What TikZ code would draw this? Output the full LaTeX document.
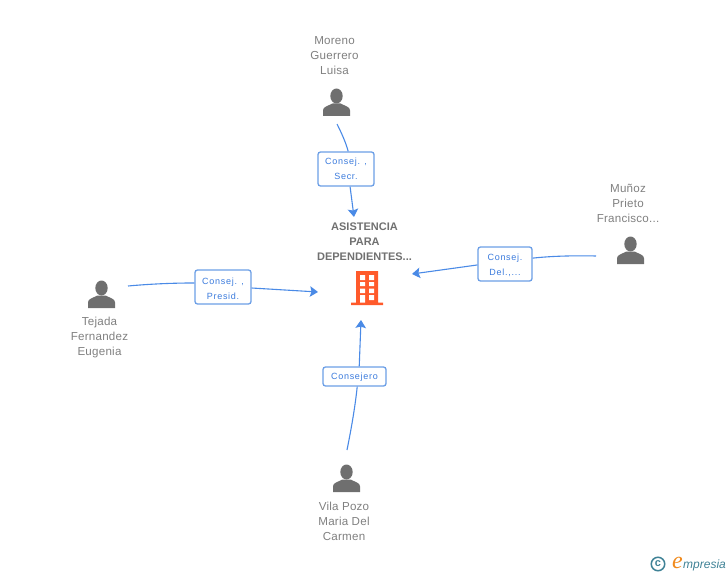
\documentclass[tikz,border=0pt]{standalone}
\usepackage{fontspec}
\setmainfont{Liberation Sans}
\newfontfamily\spacedfont[LetterSpace=8]{Liberation Sans}
\newfontfamily\namefont[LetterSpace=2]{Liberation Sans}
\newfontfamily\logoserif{Liberation Serif}
\usetikzlibrary{arrows.meta}
\definecolor{namegrey}{HTML}{808080}
\definecolor{titlegrey}{HTML}{707070}
\definecolor{icongrey}{HTML}{6F6F6F}
\definecolor{linkblue}{HTML}{4A8AE6}
\definecolor{boxblue}{HTML}{6C9FE6}
\definecolor{labelblue}{HTML}{3B7BDD}
\definecolor{bldg}{HTML}{FF5A2B}
\definecolor{logoteal}{HTML}{3F8296}
\definecolor{logoorange}{HTML}{F08A1D}
\tikzset{
  x=1pt,y=-1pt,
  person/.style={font=\namefont\fontsize{11.6}{15}\selectfont,text=namegrey,align=center,inner sep=0pt},
  title/.style={font=\fontsize{11}{15}\selectfont\bfseries,text=titlegrey,align=center,inner sep=0pt},
  rolebox/.style={draw=boxblue,line width=1.3pt,rounded corners=2.5pt,fill=white,
    inner sep=0pt},
  roletext/.style={font=\spacedfont\fontsize{9}{15}\selectfont,text=labelblue,align=center,inner sep=0pt},
  link/.style={draw=linkblue,line width=1.1pt},
  tip/.style={link,-{Stealth[length=8pt,width=10.500pt,inset=1.500pt]}},
  pics/usericon/.style={code={
    \fill[icongrey] (0,7) ellipse (6.2 and 7.5);
    \fill[icongrey] (-13.5,27) -- (-13.5,21.5) .. controls (-13.5,18) and (-10,17.5) .. (-4,14.5) -- (4,14.5) .. controls (10,17.5) and (13.5,18) .. (13.5,21.5) -- (13.5,27) -- cycle;
  }}
}
\begin{document}
\begin{tikzpicture}
\useasboundingbox (0,0) rectangle (728,575);
% people
\node[person] (moreno) at (334.5,55.7) {Moreno\\Guerrero\\Luisa};
\pic at (336.5,89) {usericon};
\node[person] (munoz) at (628,203.5) {Muñoz\\Prieto\\Francisco...};
\pic at (630.5,237) {usericon};
\node[person] (tejada) at (99.5,337.7) {Tejada\\Fernandez\\Eugenia};
\pic at (101.5,281) {usericon};
\node[person] (vila) at (344,521) {Vila Pozo\\Maria Del\\Carmen};
\pic at (346.5,465) {usericon};
% company
\node[title] (company) at (364.5,241.5) {ASISTENCIA\\PARA\\DEPENDIENTES...};
\fill[bldg] (356,271) rectangle (378,303) (351,302.500) rectangle (383,305);
\fill[white] (360,275) rectangle (365,280) (369,275) rectangle (374,280)
  (360,282) rectangle (365,286) (369,282) rectangle (374,286)
  (360,288.500) rectangle (365,293) (369,288.500) rectangle (374,293)
  (360,295) rectangle (365,302.500) (369,295) rectangle (374,300);
% role boxes
\node[rolebox,minimum width=56pt,minimum height=34pt] (secr) at (346,169) {};
\node[roletext] (secrt) at (346,169) {Consej. ,\\Secr.};
\node[rolebox,minimum width=54pt,minimum height=34pt] (del) at (505,264) {};
\node[roletext] (delt) at (505,265) {Consej.\\Del.,...};
\node[rolebox,minimum width=56pt,minimum height=34pt] (presid) at (223,287) {};
\node[roletext] (presidt) at (223,289) {Consej. ,\\Presid.};
\node[rolebox,minimum width=63pt,minimum height=19pt] (cons) at (354.5,376.5) {};
\node[roletext] (const) at (354.5,377.5) {Consejero};
% free ends
\coordinate (morenoend) at (337,124);
\coordinate (munozend) at (596,256);
\coordinate (tejadaend) at (128,286);
\coordinate (vilaend) at (347,450);
\coordinate (tipn) at (354,217);
\coordinate (tipe) at (412,274);
\coordinate (tipw) at (318,292);
\coordinate (tips) at (361,320);
% connectors
\draw[link] (morenoend) .. controls (342,134) and (346,143) .. (secr.83);
\draw[tip] (secr.-77) -- (tipn);
\draw[link] (munozend) .. controls (575,255.500) and (552,256) .. (del.12.5);
\draw[tip] (del.182) -- (tipe);
\draw[link] (tejadaend) .. controls (150,284) and (172,283) .. (presid.172);
\draw[tip] (presid.-2) -- (tipw);
\draw[link] (vilaend) .. controls (351,430) and (355,408) .. (cons.-75);
\draw[tip] (cons.65) -- (tips);
% logo
\node[draw=logoteal,line width=1.5pt,circle,minimum size=13.500pt,inner sep=0pt,text=logoteal,font=\fontsize{11}{11}\selectfont\bfseries] (copy) at (658,564) {\raisebox{0.8pt}{c}};
\node[inner sep=0pt,text=logoorange,font=\logoserif\fontsize{24}{24}\selectfont\itshape] (logoe) at (677.5,563) {e};
\node[inner sep=0pt,anchor=west,text=logoteal,font=\fontsize{12}{12}\selectfont\itshape] (logotext) at (683,565) {mpresia};
\end{tikzpicture}
\end{document}
